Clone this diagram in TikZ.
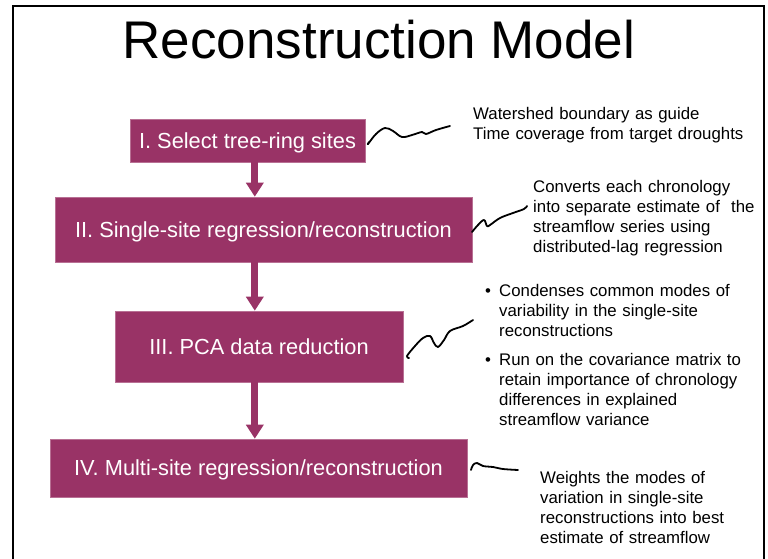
\documentclass[tikz,border=0pt]{standalone}
\usepackage{fontspec}
\setmainfont{Liberation Sans}
\usetikzlibrary{arrows.meta}
\definecolor{boxpurple}{RGB}{153,51,102}
\begin{document}
\begin{tikzpicture}[x=1pt,y=-1pt,
  stepbox/.style={fill=boxpurple, draw=boxpurple!70!white, line width=0.6pt, text=white, inner sep=0pt,
    font=\fontsize{21.8}{26}\selectfont, text height=15.6pt, text depth=0pt, align=center},
  flowarrow/.style={draw=boxpurple, line width=7pt, -{Triangle[width=17pt,length=14pt]}},
  note/.style={anchor=base west, inner sep=0pt, align=left, text width=320pt,
    font=\fontsize{16.8}{20}\selectfont},
  squiggle/.style={draw=black, line width=1.8pt, line cap=round, line join=round}]
\useasboundingbox (0,0) rectangle (768,559);
\fill[white] (0,0) rectangle (768,559);
% frame
\draw[line width=2pt] (12.8,559) -- (12.8,6) -- (763.5,6) -- (763.5,559);
% title
\node[anchor=base, inner sep=0pt, font=\fontsize{53}{60}\selectfont] (title) at (379,59) {Reconstruction Model};
% boxes
\node[stepbox, minimum width=235pt, minimum height=43pt] (b1) at (247.5,140.5) {I. Select tree-ring sites};
\node[stepbox, minimum width=417pt, minimum height=65pt] (b2) at (263.5,229.5) {II. Single-site regression/reconstruction};
\node[stepbox, minimum width=288pt, minimum height=71pt] (b3) at (259,346.5) {III. PCA data reduction};
\node[stepbox, minimum width=417pt, minimum height=58pt] (b4) at (258.5,468) {IV. Multi-site regression/reconstruction};
% arrows
\coordinate (ax) at (254.8,0);
\draw[flowarrow] (b1.south -| ax) -- (b2.north -| ax);
\draw[flowarrow] (b2.south -| ax) -- (b3.north -| ax);
\draw[flowarrow] (b3.south -| ax) -- (b4.north -| ax);
% notes
\node[note] (n1) at (473,120) {Watershed boundary as guide\\Time coverage from target droughts};
\node[note] (n2) at (533,192) {Converts each chronology\\into separate estimate of\ \ the\\streamflow series using\\distributed-lag regression};
\node[note, text width=12pt] (d1) at (485,296) {•};
\node[note] (n3) at (499,296) {Condenses common modes of\\variability in the single-site\\reconstructions};
\node[note, text width=12pt] (d2) at (485,365) {•};
\node[note] (n4) at (499,365) {Run on the covariance matrix to\\retain importance of chronology\\differences in explained\\streamflow variance};
\node[note] (n5) at (540,483) {Weights the modes of\\variation in single-site\\reconstructions into best\\estimate of streamflow};
% squiggles
\draw[squiggle] plot[smooth, tension=0.6] coordinates {(369,142) (368,144) (376,134) (385,128) (393,131) (402,137) (412,135) (422,132) (426,134) (436,130) (450,126)};
\draw[squiggle] plot[smooth, tension=0.6] coordinates {(472,232) (478,225) (484,220) (487,226) (490,225) (500,218) (513,213) (524,209) (527,206)};
\draw[squiggle] plot[smooth, tension=0.6] coordinates {(409,358) (407,356) (415,346) (423,338) (430,336) (434,343) (438,347) (444,340) (450,331) (463,326) (473,320)};
\draw[squiggle] plot[smooth, tension=0.6] coordinates {(471,470) (473,465) (477,463) (483,466) (493,467) (503,469) (518,470)};
\end{tikzpicture}
\end{document}
